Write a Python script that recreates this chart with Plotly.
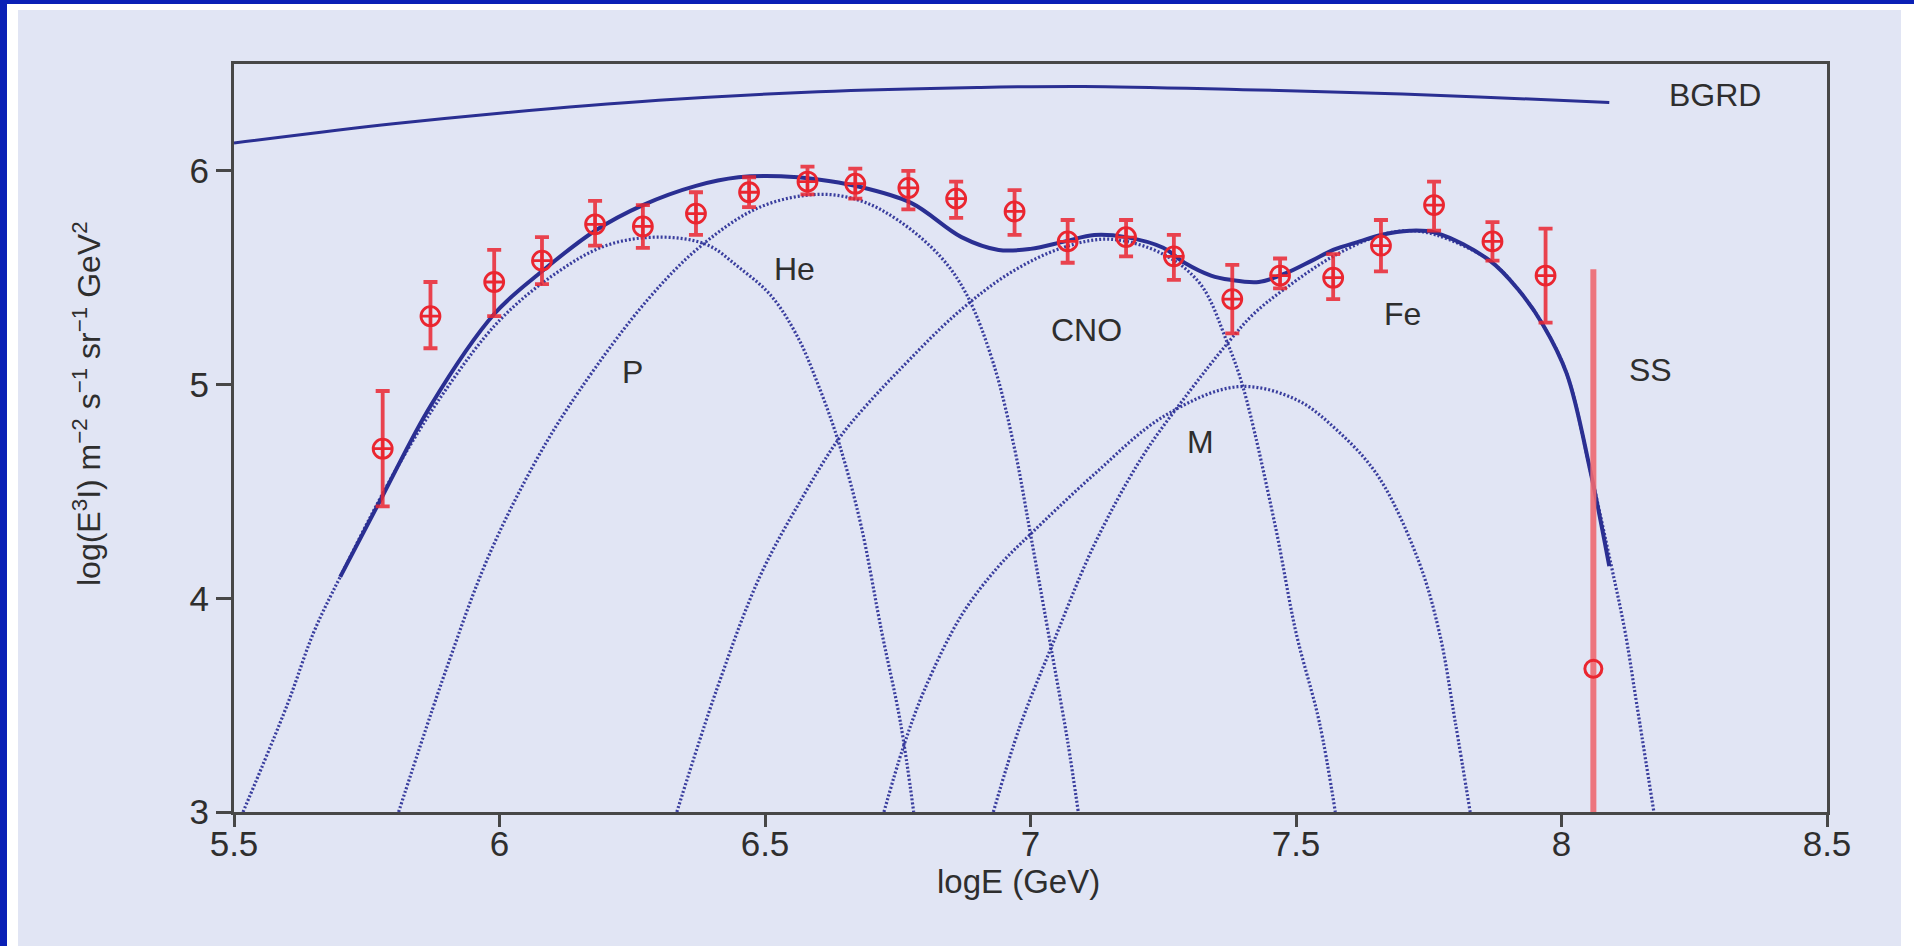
import plotly.graph_objects as go

# ---- measured spectrum (log E in GeV, log(E^3 I)) ----
log_e = [5.78, 5.87, 5.99, 6.08, 6.18, 6.27, 6.37, 6.47, 6.58, 6.67, 6.77, 6.86,
         6.97, 7.07, 7.18, 7.27, 7.38, 7.47, 7.57, 7.66, 7.76, 7.87, 7.97]
log_flux = [4.70, 5.32, 5.48, 5.58, 5.75, 5.74, 5.80, 5.90, 5.95, 5.94, 5.92, 5.87,
            5.81, 5.67, 5.69, 5.60, 5.40, 5.51, 5.50, 5.65, 5.84, 5.67, 5.51]
err_up = [0.27, 0.16, 0.15, 0.11, 0.11, 0.10, 0.10, 0.07, 0.07, 0.07, 0.08, 0.08,
          0.10, 0.10, 0.08, 0.10, 0.16, 0.08, 0.11, 0.12, 0.11, 0.09, 0.22]
err_down = [0.27, 0.15, 0.16, 0.11, 0.10, 0.10, 0.10, 0.07, 0.06, 0.07, 0.10, 0.09,
            0.11, 0.10, 0.09, 0.11, 0.16, 0.06, 0.10, 0.12, 0.12, 0.09, 0.22]

# single source (SS) point
ss_e = [8.06]
ss_flux = [3.67]
ss_up = [1.87]
ss_down = [0.67]

# ---- model components ----
p_x = [5.517, 5.6, 5.65, 5.7, 5.8, 5.9, 6.0, 6.1, 6.2, 6.3, 6.39, 6.45, 6.51, 6.56,
       6.6, 6.64, 6.68, 6.72, 6.755, 6.78]
p_y = [3.0, 3.5, 3.84, 4.1, 4.58, 4.98, 5.3, 5.51, 5.65, 5.69, 5.655, 5.55, 5.42, 5.23,
       5.0, 4.72, 4.35, 3.84, 3.42, 3.0]

he_x = [5.81, 5.9, 5.98, 6.07, 6.15, 6.28, 6.38, 6.49, 6.6, 6.68, 6.75, 6.83, 6.88,
        6.93, 6.97, 7.0, 7.04, 7.07, 7.09]
he_y = [3.0, 3.67, 4.2, 4.65, 4.97, 5.4, 5.65, 5.83, 5.89, 5.86, 5.77, 5.6, 5.42,
        5.1, 4.7, 4.3, 3.75, 3.33, 3.0]

cno_x = [6.334, 6.41, 6.49, 6.57, 6.64, 6.69, 6.75, 6.86, 6.96, 7.06, 7.15, 7.25,
         7.32, 7.37, 7.4, 7.46, 7.5, 7.544, 7.574]
cno_y = [3.0, 3.58, 4.1, 4.47, 4.75, 4.9, 5.06, 5.33, 5.52, 5.64, 5.68, 5.61,
         5.47, 5.2, 4.99, 4.35, 3.84, 3.42, 3.0]

m_x = [6.724, 6.76, 6.8, 6.87, 6.94, 7.0, 7.12, 7.25, 7.39, 7.5, 7.58, 7.655, 7.73,
       7.77, 7.8, 7.828]
m_y = [3.0, 3.3, 3.57, 3.92, 4.15, 4.3, 4.58, 4.85, 4.99, 4.93, 4.78, 4.57, 4.18,
       3.84, 3.42, 3.0]

fe_x = [6.93, 6.98, 7.044, 7.12, 7.21, 7.3, 7.37, 7.42, 7.48, 7.57, 7.66, 7.714, 7.764,
        7.865, 7.92, 7.965, 8.01, 8.054, 8.094, 8.12, 8.142, 8.174]
fe_y = [3.0, 3.4, 3.8, 4.25, 4.66, 4.97, 5.19, 5.33, 5.45, 5.6, 5.7, 5.72, 5.7,
        5.58, 5.44, 5.28, 5.05, 4.6, 4.15, 3.84, 3.5, 3.0]

total_x = [5.70, 5.78, 5.87, 5.99, 6.08, 6.18, 6.27, 6.37, 6.45, 6.53, 6.6, 6.67,
           6.775, 6.87, 6.94, 7.0, 7.065, 7.12, 7.18, 7.25, 7.29, 7.34, 7.376, 7.43,
           7.48, 7.53, 7.57, 7.62, 7.66, 7.714, 7.764, 7.865, 7.92, 7.965, 8.01,
           8.054, 8.09]
total_y = [4.1, 4.48, 4.9, 5.33, 5.53, 5.72, 5.84, 5.93, 5.97, 5.975, 5.96, 5.93,
           5.85, 5.69, 5.63, 5.635, 5.67, 5.70, 5.69, 5.64, 5.57, 5.51, 5.49, 5.48,
           5.52, 5.58, 5.63, 5.67, 5.70, 5.72, 5.71, 5.58, 5.44, 5.28, 5.05, 4.6, 4.15]

bgrd_x = [5.5, 5.8, 6.0, 6.3, 6.6, 6.9, 7.1, 7.4, 7.7, 7.9, 8.09]
bgrd_y = [6.13, 6.22, 6.27, 6.33, 6.37, 6.39, 6.395, 6.38, 6.36, 6.34, 6.32]

# curve labels
label_text = ["BGRD", "P", "He", "CNO", "M", "Fe", "SS"]
label_x = [8.29, 6.25, 6.555, 7.105, 7.32, 7.70, 8.167]
label_y = [6.354, 5.057, 5.543, 5.257, 4.73, 5.33, 5.07]

x_ticks = [5.5, 6, 6.5, 7, 7.5, 8, 8.5]
x_tick_text = ["5.5", "6", "6.5", "7", "7.5", "8", "8.5"]
y_ticks = [3, 4, 5, 6]
y_tick_text = ["3", "4", "5", "6"]

# ---- page geometry (pixels) ----
W, H = 1914, 946
L, R, T, B = 234, 1827, 64, 812
PW, PH = R - L, B - T


def px(x):
    return (x - L) / PW


def py(y):
    return (B - y) / PH


NAVY = "#2a2f92"
DOT = "rgba(42,47,150,0.92)"
RED = "#ea2630"
FONT = "Liberation Sans, Arial, sans-serif"
TXT = "#2e2e2e"

fig = go.Figure()

for cx, cy in [(p_x, p_y), (he_x, he_y), (cno_x, cno_y), (m_x, m_y), (fe_x, fe_y)]:
    fig.add_trace(go.Scatter(x=cx, y=cy, mode="lines",
                             line=dict(color=DOT, width=3.2, dash="2px,2px",
                                       shape="spline", smoothing=1.0),
                             hoverinfo="skip", showlegend=False))

fig.add_trace(go.Scatter(x=bgrd_x, y=bgrd_y, mode="lines",
                         line=dict(color=NAVY, width=3, shape="spline", smoothing=1.0),
                         showlegend=False))
fig.add_trace(go.Scatter(x=total_x, y=total_y, mode="lines",
                         line=dict(color=NAVY, width=4, shape="spline", smoothing=1.0),
                         showlegend=False))

fig.add_trace(go.Scatter(
    x=ss_e, y=ss_flux, mode="markers",
    marker=dict(symbol="circle-open", size=17, color=RED, line=dict(width=3, color=RED)),
    error_y=dict(type="data", symmetric=False, array=ss_up, arrayminus=ss_down,
                 color="rgba(238,104,112,0.9)", thickness=6, width=0),
    showlegend=False))

fig.add_trace(go.Scatter(
    x=log_e, y=log_flux, mode="markers",
    marker=dict(symbol="circle-cross-open", size=19, color=RED,
                line=dict(width=2.8, color=RED)),
    error_y=dict(type="data", symmetric=False, array=err_up, arrayminus=err_down,
                 color="rgba(234,38,48,0.85)", thickness=3.8, width=7),
    showlegend=False))

annotations = []
for t, lx, ly in zip(label_text, label_x, label_y):
    annotations.append(dict(x=lx, y=ly, xref="x", yref="y", text=t, showarrow=False,
                            font=dict(family=FONT, size=32, color=TXT),
                            xanchor="center", yanchor="middle"))

annotations.append(dict(x=px(1018), y=py(881), xref="paper", yref="paper",
                        text="logE (GeV)", showarrow=False,
                        font=dict(family=FONT, size=33, color=TXT),
                        xanchor="center", yanchor="middle"))
annotations.append(dict(x=px(87), y=py(404), xref="paper", yref="paper",
                        text="log(E<sup>3</sup>I) m<sup>−2</sup> s<sup>−1</sup> sr<sup>−1</sup> GeV<sup>2</sup>",
                        textangle=-90, showarrow=False,
                        font=dict(family=FONT, size=32, color=TXT),
                        xanchor="center", yanchor="middle"))

shapes = [
    # light panel
    dict(type="rect", xref="paper", yref="paper", layer="below",
         x0=px(18), x1=px(1901), y0=py(10), y1=py(H + 5),
         fillcolor="#e1e5f4", line=dict(width=0)),
    # blue frame, left and top
    dict(type="rect", xref="paper", yref="paper", layer="below",
         x0=px(-5), x1=px(7), y0=py(-5), y1=py(H + 5),
         fillcolor="#0a20b6", line=dict(width=0)),
    dict(type="rect", xref="paper", yref="paper", layer="below",
         x0=px(-5), x1=px(W + 5), y0=py(-5), y1=py(4),
         fillcolor="#0a20b6", line=dict(width=0)),
]

axis_common = dict(showline=True, linecolor="#474747", linewidth=3, mirror=True,
                   ticks="outside", tickcolor="#474747", tickwidth=3,
                   showgrid=False, zeroline=False,
                   tickfont=dict(family=FONT, size=35, color=TXT))

fig.update_layout(
    width=W, height=H,
    margin=dict(l=L, r=W - R, t=T, b=H - B, autoexpand=False),
    paper_bgcolor="white", plot_bgcolor="rgba(0,0,0,0)",
    xaxis=dict(range=[5.5, 8.5], tickvals=x_ticks, ticktext=x_tick_text,
               ticklen=12, ticklabelstandoff=-13, **axis_common),
    yaxis=dict(range=[3, 6.5], tickvals=y_ticks, ticktext=y_tick_text,
               ticklen=15, **axis_common),
    annotations=annotations, shapes=shapes, showlegend=False,
)

fig.write_html("out.html", config={"displayModeBar": False})
